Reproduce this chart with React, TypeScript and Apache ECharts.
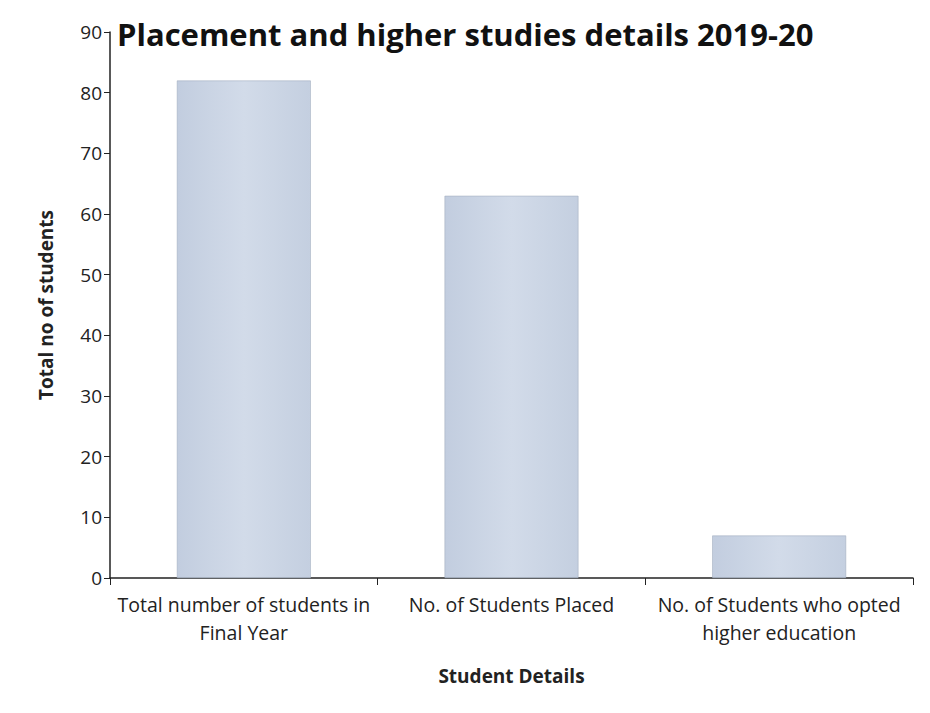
import React, { useEffect, useRef } from "react";
import * as echarts from "echarts";

const categories = [
  "Total number of students in\nFinal Year",
  "No. of Students Placed",
  "No. of Students who opted\nhigher education",
];
const studentCounts = [82, 63, 7];
const titleText = "Placement and higher studies details 2019-20";
const yAxisName = "Total no of students";
const xAxisName = "Student Details";

export default function App() {
  const ref = useRef<HTMLDivElement>(null);
  useEffect(() => {
    if (!ref.current) return;
    const chart = echarts.init(ref.current, null, { renderer: "svg" });
    const font = "'Open Sans', 'Noto Sans', sans-serif";
    chart.setOption({
      animation: false,
      backgroundColor: "#ffffff",
      title: {
        text: titleText,
        left: 112,
        top: 13,
        textStyle: { fontFamily: font, fontSize: 31, fontWeight: "bold", color: "#111" },
      },
      grid: { left: 110, right: 17, top: 32, bottom: 135, containLabel: false },
      xAxis: {
        type: "category",
        data: categories,
        name: xAxisName,
        nameLocation: "middle",
        nameGap: 88,
        nameTextStyle: { fontFamily: font, fontSize: 19, fontWeight: "bold", color: "#222" },
        axisLine: { lineStyle: { color: "#222", width: 1.5 } },
        axisTick: { show: true, alignWithLabel: false, length: 7, lineStyle: { color: "#222" } },
        axisLabel: {
          interval: 0,
          fontFamily: font,
          fontSize: 19.5,
          color: "#222",
          lineHeight: 28,
          margin: 12,
        },
      },
      yAxis: {
        type: "value",
        min: 0,
        max: 90,
        interval: 10,
        name: yAxisName,
        nameLocation: "middle",
        nameGap: 55,
        nameTextStyle: { fontFamily: font, fontSize: 19, fontWeight: "bold", color: "#222" },
        axisLine: { show: true, lineStyle: { color: "#222", width: 1.5 } },
        axisTick: { show: true, length: 6, lineStyle: { color: "#222" } },
        axisLabel: { fontFamily: font, fontSize: 19, color: "#222", margin: 8 },
        splitLine: { show: false },
      },
      series: [
        {
          type: "bar",
          data: studentCounts,
          barWidth: "50%",
          itemStyle: {
            color: new echarts.graphic.LinearGradient(0, 0, 1, 0, [
              { offset: 0, color: "#c2cddf" },
              { offset: 0.5, color: "#d2dbe9" },
              { offset: 1, color: "#c4cfe0" },
            ]),
            borderColor: "#9aa6b8",
            borderWidth: 0.5,
          },
        },
      ],
    });
    return () => chart.dispose();
  }, []);
  return <div ref={ref} style={{ width: 930, height: 713, position: "absolute", left: 0, top: 0 }} />;
}
